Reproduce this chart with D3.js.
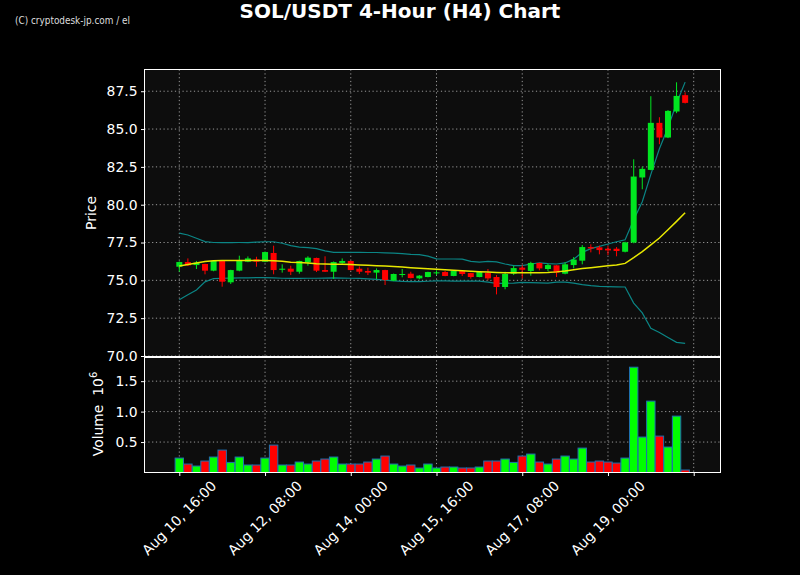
<!DOCTYPE html>
<html><head><meta charset="utf-8">
<script src="https://cdn.jsdelivr.net/npm/d3@7"></script>
<style>html,body{margin:0;padding:0;background:#000;}svg{display:block;}</style>
</head><body>
<svg id="c" width="800" height="575"></svg>
<script>
// ---- data ----
const startTime = new Date(2025, 7, 10, 16, 0);
const candleHours = 4;
const opens  = [75.90,76.21,76.01,76.08,75.64,76.28,74.87,75.64,76.23,76.39,76.23,76.81,75.70,75.77,75.57,76.19,76.48,75.68,75.57,76.15,76.28,75.77,75.62,75.51,75.68,74.98,75.37,75.44,75.13,75.22,75.46,75.55,75.29,75.62,75.48,75.22,75.48,75.22,74.56,75.44,75.84,75.62,76.15,75.75,75.99,75.44,76.01,76.30,77.20,77.18,77.09,77.09,76.89,77.50,81.80,82.30,85.41,84.44,86.16,87.24];
const highs  = [76.25,76.45,76.28,76.10,76.30,76.30,75.70,76.63,76.58,76.56,76.90,77.29,76.06,75.97,76.30,76.59,76.50,76.59,76.25,76.45,76.30,75.92,75.84,75.79,75.70,75.45,75.75,75.57,75.35,75.57,75.66,75.62,75.64,75.64,75.50,75.57,75.75,75.35,75.57,75.97,76.01,76.23,76.17,76.10,76.00,76.19,76.54,77.33,77.38,77.29,77.27,77.20,77.55,83.00,82.52,87.17,85.78,86.25,88.09,87.43];
const lows   = [75.57,75.95,75.75,75.40,75.60,74.58,74.76,75.60,76.20,75.90,76.20,75.40,75.51,75.35,75.44,75.97,75.55,75.55,75.09,76.10,75.65,75.42,75.35,75.09,74.69,74.95,75.20,75.13,75.07,75.20,75.35,75.27,75.27,75.29,75.11,75.20,75.00,74.07,74.41,75.35,75.13,75.31,75.66,75.60,75.22,75.40,75.79,76.06,76.85,76.72,76.67,76.59,76.85,77.45,81.02,82.28,84.00,84.40,86.05,86.69];
const closes = [76.21,75.99,76.17,75.64,76.28,74.91,75.68,76.28,76.45,76.23,76.87,75.68,75.77,75.57,76.28,76.50,75.64,75.57,76.21,76.28,75.68,75.57,75.51,75.68,75.02,75.42,75.42,75.15,75.31,75.55,75.53,75.29,75.62,75.42,75.22,75.55,75.13,74.56,75.42,75.81,75.70,76.15,75.79,76.01,75.51,76.06,76.37,77.20,77.11,77.00,76.98,76.94,77.51,81.86,82.37,85.41,84.44,86.20,87.19,86.73];
const volumes = [0.237,0.139,0.106,0.188,0.254,0.368,0.166,0.254,0.123,0.123,0.237,0.450,0.123,0.123,0.172,0.139,0.188,0.221,0.254,0.139,0.139,0.139,0.172,0.221,0.270,0.139,0.106,0.123,0.074,0.139,0.074,0.090,0.090,0.074,0.074,0.090,0.188,0.188,0.221,0.166,0.270,0.303,0.172,0.139,0.221,0.270,0.221,0.401,0.172,0.188,0.172,0.155,0.237,1.729,0.582,1.172,0.598,0.418,0.926,0.041];
const ma20 = [75.95,76.05,76.15,76.25,76.30,76.31,76.31,76.31,76.31,76.32,76.32,76.30,76.26,76.20,76.18,76.14,76.10,76.08,76.07,76.06,76.04,76.01,75.99,75.97,75.95,75.92,75.88,75.84,75.80,75.76,75.73,75.70,75.67,75.63,75.60,75.57,75.55,75.52,75.50,75.50,75.50,75.51,75.51,75.52,75.56,75.62,75.70,75.78,75.84,75.90,75.96,76.02,76.12,76.50,76.90,77.35,77.80,78.35,78.90,79.47];
const bbUpper = [78.12,78.00,77.78,77.56,77.50,77.49,77.49,77.50,77.50,77.53,77.55,77.55,77.45,77.30,77.20,77.16,77.10,76.95,76.85,76.85,76.85,76.85,76.84,76.84,76.82,76.80,76.76,76.72,76.70,76.60,76.42,76.41,76.41,76.40,76.25,76.20,76.26,76.22,76.08,75.97,75.97,76.08,76.15,76.10,76.08,76.15,76.40,76.85,77.10,77.25,77.40,77.55,77.68,79.00,80.20,82.00,83.70,85.10,86.70,88.10];
const bbLower = [73.72,74.05,74.36,74.90,75.12,75.14,75.15,75.16,75.17,75.18,75.18,75.16,75.14,75.13,75.13,75.14,75.14,75.15,75.16,75.15,75.14,75.13,75.10,75.06,75.02,74.97,74.93,74.92,74.92,74.94,74.97,74.96,74.95,74.95,74.95,74.95,74.88,74.80,74.80,74.82,74.86,74.85,74.83,74.82,74.88,74.88,74.82,74.72,74.65,74.60,74.58,74.57,74.56,73.50,72.85,71.83,71.55,71.22,70.90,70.84];
const priceTicks = [70.0,72.5,75.0,77.5,80.0,82.5,85.0,87.5];
const volumeTicks = [0.5,1.0,1.5];
const xTickTimes = [new Date(2025,7,10,16), new Date(2025,7,12,8), new Date(2025,7,14,0), new Date(2025,7,15,16), new Date(2025,7,17,8), new Date(2025,7,19,0), new Date(2025,7,20,16)];
const xTickLabels = ["Aug 10, 16:00","Aug 12, 08:00","Aug 14, 00:00","Aug 15, 16:00","Aug 17, 08:00","Aug 19, 00:00",""];

// ---- layout ----
const H = 3600*1000;
const times = opens.map((_, i) => new Date(startTime.getTime() + i*candleHours*H));
const L = 144.5, R = 720.5, pTop = 69.5, pBot = 356.5, vTop = 356.5, vBot = 472.5;
const x = d3.scaleTime()
  .domain([new Date(startTime.getTime() - 16.24*H), new Date(startTime.getTime() + 252.5*H)])
  .range([L, R]);
const step = x(times[1]) - x(times[0]);
const yP = d3.scaleLinear().domain([70 - 0.5/15.13, 70 + (356 - 69.5)/15.13]).range([pBot, pTop]);
const yV = d3.scaleLinear().domain([0, 1.905]).range([vBot, vTop]);

const svg = d3.select("#c");
svg.append("rect").attr("width",800).attr("height",575).attr("fill","#000");
svg.append("rect").attr("x",L).attr("y",pTop).attr("width",R-L).attr("height",pBot-pTop).attr("fill","#0d0d0d");
svg.append("rect").attr("x",L).attr("y",vTop).attr("width",R-L).attr("height",vBot-vTop).attr("fill","#0d0d0d");

const font = "DejaVu Sans, sans-serif";
const gridStyle = g => g.attr("stroke","#9a9a9a").attr("stroke-width",1).attr("stroke-dasharray","1.2,2.6");

// grid
const grid = svg.append("g");
xTickTimes.forEach(t => {
  gridStyle(grid.append("line").attr("x1",x(t)).attr("x2",x(t)).attr("y1",pTop).attr("y2",pBot));
  gridStyle(grid.append("line").attr("x1",x(t)).attr("x2",x(t)).attr("y1",vTop).attr("y2",vBot));
});
priceTicks.forEach(p => gridStyle(grid.append("line").attr("x1",L).attr("x2",R).attr("y1",yP(p)).attr("y2",yP(p))));
volumeTicks.forEach(v => gridStyle(grid.append("line").attr("x1",L).attr("x2",R).attr("y1",yV(v)).attr("y2",yV(v))));

const green = "#00ff00", red = "#ff0000";
const cg = "#00e620";

// bands and MA
const line = arr => d3.line().x((d,i)=>x(times[i])).y(d=>yP(d))(arr);
svg.append("path").attr("d",line(bbUpper)).attr("fill","none").attr("stroke","#0b8585").attr("stroke-width",1.2);
svg.append("path").attr("d",line(bbLower)).attr("fill","none").attr("stroke","#0b8585").attr("stroke-width",1.2);

// candles
const cw = step*0.7;
const candles = svg.append("g");
opens.forEach((o,i) => {
  const c = closes[i], up = c >= o, col = up ? cg : red;
  const cx = x(times[i]);
  candles.append("line").attr("x1",cx).attr("x2",cx).attr("y1",yP(highs[i])).attr("y2",yP(lows[i])).attr("stroke",col).attr("stroke-width",1);
  const top = yP(Math.max(o,c)), bot = yP(Math.min(o,c));
  candles.append("rect").attr("x",cx-cw/2).attr("y",top).attr("width",cw).attr("height",Math.max(1,bot-top)).attr("fill",col);
});
svg.append("path").attr("d",line(ma20)).attr("fill","none").attr("stroke","#e8e800").attr("stroke-width",1.5);

// volume bars
const bw = step*0.98;
volumes.forEach((v,i) => {
  const up = closes[i] >= opens[i];
  svg.append("rect").attr("x",x(times[i])-bw/2).attr("y",yV(v)).attr("width",bw).attr("height",yV(0)-yV(v))
    .attr("fill", up ? green : red).attr("stroke","#1f6fae").attr("stroke-width",1);
});

// frames
svg.append("rect").attr("x",L).attr("y",pTop).attr("width",R-L).attr("height",pBot-pTop).attr("fill","none").attr("stroke","#fff").attr("stroke-width",1);
svg.append("rect").attr("x",L).attr("y",vTop+1).attr("width",R-L).attr("height",vBot-vTop-1).attr("fill","none").attr("stroke","#fff").attr("stroke-width",1);

// axes
const styleAxis = g => {
  g.select(".domain").remove();
  g.selectAll(".tick line").attr("stroke","#fff");
  g.selectAll(".tick text").attr("fill","#fff").attr("font-family",font).attr("font-size","13.9px");
};
svg.append("g").attr("transform",`translate(${L},0)`)
  .call(d3.axisLeft(yP).tickValues(priceTicks).tickFormat(d3.format(".1f")).tickSize(3.5).tickPadding(3.5))
  .call(styleAxis);
svg.append("g").attr("transform",`translate(${L},0)`)
  .call(d3.axisLeft(yV).tickValues(volumeTicks).tickFormat(d3.format(".1f")).tickSize(3.5).tickPadding(3.5))
  .call(styleAxis);
const xa = svg.append("g").attr("transform",`translate(0,${vBot})`)
  .call(d3.axisBottom(x).tickValues(xTickTimes).tickFormat((d,i)=>xTickLabels[i]).tickSize(3.5).tickPadding(3.5))
  .call(styleAxis);
xa.selectAll(".tick text").attr("text-anchor","middle").attr("dy",null).attr("y",null)
  .attr("transform","translate(0,46) rotate(-45)").attr("dominant-baseline","middle");

// labels
svg.append("text").attr("transform","translate(96,213) rotate(-90)").attr("text-anchor","middle")
  .attr("fill","#fff").attr("font-family",font).attr("font-size","13.9px").text("Price");
const vl = svg.append("text").attr("transform","translate(103,414) rotate(-90)").attr("text-anchor","middle")
  .attr("fill","#fff").attr("font-family",font).attr("font-size","13.9px").attr("xml:space","preserve");
vl.append("tspan").text("Volume  10");
vl.append("tspan").attr("dy",-6).attr("font-size","10px").text("6");

svg.append("text").attr("x",400).attr("y",18).attr("text-anchor","middle").attr("fill","#fff")
  .attr("font-family",font).attr("font-weight","bold").attr("font-size","20px").text("SOL/USDT 4-Hour (H4) Chart");
svg.append("text").attr("x",15).attr("y",24).attr("fill","#ddd")
  .attr("font-family","Liberation Sans Narrow, DejaVu Sans Condensed, sans-serif").attr("font-size","11px")
  .attr("textLength",115).attr("lengthAdjust","spacingAndGlyphs").text("(C) cryptodesk-jp.com / el");
</script>
</body></html>
